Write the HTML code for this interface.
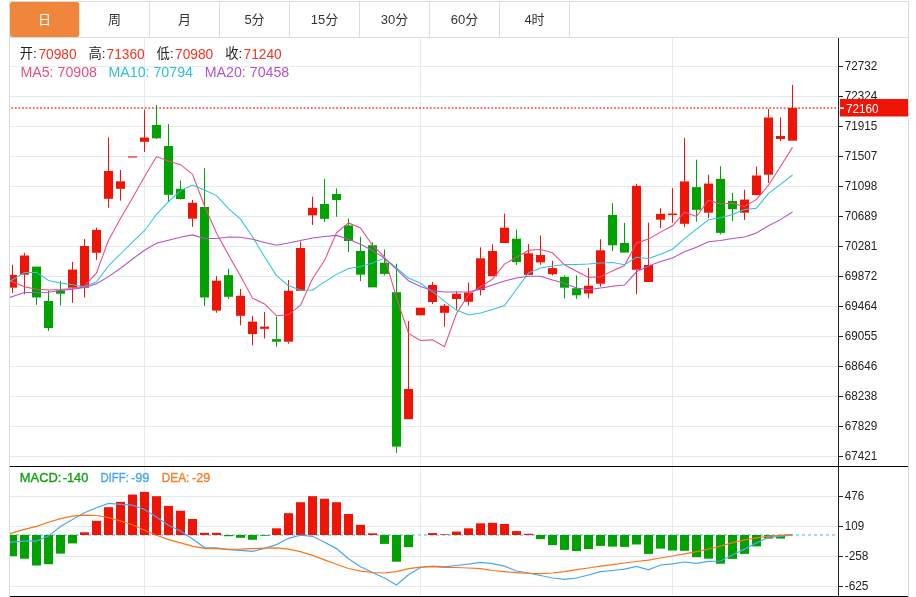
<!DOCTYPE html>
<html lang="zh-CN"><head><meta charset="utf-8"><title>K线图</title>
<style>html,body{margin:0;padding:0;background:#fff}svg{display:block;will-change:transform}text{font-family:"Liberation Sans","Noto Sans CJK SC",sans-serif}</style></head><body>
<svg width="916" height="597" viewBox="0 0 916 597">
<rect x="0" y="0" width="916" height="597" fill="#fff"/>
<g stroke="#e3ebf2" stroke-width="1" shape-rendering="crispEdges">
<line x1="10" x2="838" y1="66.5" y2="66.5"/>
<line x1="10" x2="838" y1="96.5" y2="96.5"/>
<line x1="10" x2="838" y1="126.5" y2="126.5"/>
<line x1="10" x2="838" y1="156.5" y2="156.5"/>
<line x1="10" x2="838" y1="186.5" y2="186.5"/>
<line x1="10" x2="838" y1="216.5" y2="216.5"/>
<line x1="10" x2="838" y1="246.5" y2="246.5"/>
<line x1="10" x2="838" y1="276.5" y2="276.5"/>
<line x1="10" x2="838" y1="306.5" y2="306.5"/>
<line x1="10" x2="838" y1="336.5" y2="336.5"/>
<line x1="10" x2="838" y1="366.5" y2="366.5"/>
<line x1="10" x2="838" y1="396.5" y2="396.5"/>
<line x1="10" x2="838" y1="426.5" y2="426.5"/>
<line x1="10" x2="838" y1="456.5" y2="456.5"/>
<line x1="10" x2="838" y1="496.5" y2="496.5"/>
<line x1="10" x2="838" y1="526.5" y2="526.5"/>
<line x1="10" x2="838" y1="556.5" y2="556.5"/>
<line x1="10" x2="838" y1="586.5" y2="586.5"/>
<line x1="144.5" x2="144.5" y1="38" y2="596"/>
<line x1="420.5" x2="420.5" y1="38" y2="596"/>
<line x1="672.5" x2="672.5" y1="38" y2="596"/>
</g>
<g stroke="#dcdcdc" stroke-width="1" fill="none" shape-rendering="crispEdges">
<rect x="9.5" y="1.5" width="899" height="597"/>
<line x1="10" x2="908" y1="37.5" y2="37.5"/>
<line x1="149.5" x2="149.5" y1="2" y2="37"/>
<line x1="219.5" x2="219.5" y1="2" y2="37"/>
<line x1="289.5" x2="289.5" y1="2" y2="37"/>
<line x1="359.5" x2="359.5" y1="2" y2="37"/>
<line x1="429.5" x2="429.5" y1="2" y2="37"/>
<line x1="499.5" x2="499.5" y1="2" y2="37"/>
<line x1="569.5" x2="569.5" y1="2" y2="37"/>
</g>
<rect x="10" y="2" width="69.2" height="35" rx="2.2" ry="2.2" fill="#f0863c"/>
<text x="44.5" y="24.2" font-size="13" fill="#fff" text-anchor="middle">日</text>
<text x="114.5" y="24.2" font-size="13" fill="#333" text-anchor="middle">周</text>
<text x="184.5" y="24.2" font-size="13" fill="#333" text-anchor="middle">月</text>
<text x="254.5" y="24.2" font-size="13" fill="#333" text-anchor="middle">5分</text>
<text x="324.5" y="24.2" font-size="13" fill="#333" text-anchor="middle">15分</text>
<text x="394.5" y="24.2" font-size="13" fill="#333" text-anchor="middle">30分</text>
<text x="464.5" y="24.2" font-size="13" fill="#333" text-anchor="middle">60分</text>
<text x="534.5" y="24.2" font-size="13" fill="#333" text-anchor="middle">4时</text>
<defs><clipPath id="c"><rect x="10" y="38" width="828" height="558"/></clipPath></defs>
<g clip-path="url(#c)">
<line x1="10" x2="836" y1="535" y2="535" stroke="#a6d9ef" stroke-width="2" stroke-dasharray="3 3"/>
<rect x="8.0" y="535.0" width="9" height="21.2" fill="#00a200"/>
<rect x="20.0" y="535.0" width="9" height="23.7" fill="#00a200"/>
<rect x="32.0" y="535.0" width="9" height="30.5" fill="#00a200"/>
<rect x="44.0" y="535.0" width="9" height="29.2" fill="#00a200"/>
<rect x="56.0" y="535.0" width="9" height="18.6" fill="#00a200"/>
<rect x="68.0" y="535.0" width="9" height="8.4" fill="#00a200"/>
<rect x="80.0" y="532.3" width="9" height="2.7" fill="#ee1506"/>
<rect x="92.0" y="520.8" width="9" height="14.2" fill="#ee1506"/>
<rect x="104.0" y="507.2" width="9" height="27.8" fill="#ee1506"/>
<rect x="116.0" y="501.9" width="9" height="33.1" fill="#ee1506"/>
<rect x="128.0" y="494.6" width="9" height="40.4" fill="#ee1506"/>
<rect x="140.0" y="491.9" width="9" height="43.1" fill="#ee1506"/>
<rect x="152.0" y="496.2" width="9" height="38.8" fill="#ee1506"/>
<rect x="164.0" y="505.9" width="9" height="29.1" fill="#ee1506"/>
<rect x="176.0" y="510.7" width="9" height="24.3" fill="#ee1506"/>
<rect x="188.0" y="519.0" width="9" height="16.0" fill="#ee1506"/>
<rect x="200.0" y="532.8" width="9" height="2.2" fill="#ee1506"/>
<rect x="212.0" y="532.8" width="9" height="2.2" fill="#ee1506"/>
<rect x="224.0" y="535.0" width="9" height="1.2" fill="#00a200"/>
<rect x="236.0" y="535.0" width="9" height="2.8" fill="#00a200"/>
<rect x="248.0" y="535.0" width="9" height="4.8" fill="#00a200"/>
<rect x="260.0" y="535.0" width="9" height="0.8" fill="#00a200"/>
<rect x="272.0" y="528.3" width="9" height="6.7" fill="#ee1506"/>
<rect x="284.0" y="513.2" width="9" height="21.8" fill="#ee1506"/>
<rect x="296.0" y="502.2" width="9" height="32.8" fill="#ee1506"/>
<rect x="308.0" y="496.2" width="9" height="38.8" fill="#ee1506"/>
<rect x="320.0" y="498.7" width="9" height="36.3" fill="#ee1506"/>
<rect x="332.0" y="502.2" width="9" height="32.8" fill="#ee1506"/>
<rect x="344.0" y="514.0" width="9" height="21.0" fill="#ee1506"/>
<rect x="356.0" y="524.8" width="9" height="10.2" fill="#ee1506"/>
<rect x="368.0" y="533.3" width="9" height="1.7" fill="#ee1506"/>
<rect x="380.0" y="535.0" width="9" height="8.9" fill="#00a200"/>
<rect x="392.0" y="535.0" width="9" height="26.7" fill="#00a200"/>
<rect x="404.0" y="535.0" width="9" height="12.1" fill="#00a200"/>
<rect x="428.0" y="533.1" width="9" height="1.9" fill="#ee1506"/>
<rect x="440.0" y="534.3" width="9" height="0.7" fill="#ee1506"/>
<rect x="452.0" y="531.6" width="9" height="3.4" fill="#ee1506"/>
<rect x="464.0" y="528.3" width="9" height="6.7" fill="#ee1506"/>
<rect x="476.0" y="523.3" width="9" height="11.7" fill="#ee1506"/>
<rect x="488.0" y="522.8" width="9" height="12.2" fill="#ee1506"/>
<rect x="500.0" y="524.0" width="9" height="11.0" fill="#ee1506"/>
<rect x="512.0" y="531.1" width="9" height="3.9" fill="#ee1506"/>
<rect x="524.0" y="533.8" width="9" height="1.2" fill="#ee1506"/>
<rect x="536.0" y="535.0" width="9" height="4.1" fill="#00a200"/>
<rect x="548.0" y="535.0" width="9" height="10.1" fill="#00a200"/>
<rect x="560.0" y="535.0" width="9" height="14.9" fill="#00a200"/>
<rect x="572.0" y="535.0" width="9" height="16.1" fill="#00a200"/>
<rect x="584.0" y="535.0" width="9" height="14.1" fill="#00a200"/>
<rect x="596.0" y="535.0" width="9" height="10.9" fill="#00a200"/>
<rect x="608.0" y="535.0" width="9" height="11.6" fill="#00a200"/>
<rect x="620.0" y="535.0" width="9" height="11.9" fill="#00a200"/>
<rect x="632.0" y="535.0" width="9" height="9.5" fill="#00a200"/>
<rect x="644.0" y="535.0" width="9" height="18.9" fill="#00a200"/>
<rect x="656.0" y="535.0" width="9" height="13.6" fill="#00a200"/>
<rect x="668.0" y="535.0" width="9" height="15.5" fill="#00a200"/>
<rect x="680.0" y="535.0" width="9" height="15.8" fill="#00a200"/>
<rect x="692.0" y="535.0" width="9" height="22.2" fill="#00a200"/>
<rect x="704.0" y="535.0" width="9" height="23.7" fill="#00a200"/>
<rect x="716.0" y="535.0" width="9" height="28.7" fill="#00a200"/>
<rect x="728.0" y="535.0" width="9" height="23.9" fill="#00a200"/>
<rect x="740.0" y="535.0" width="9" height="18.9" fill="#00a200"/>
<rect x="752.0" y="535.0" width="9" height="11.4" fill="#00a200"/>
<rect x="764.0" y="535.0" width="9" height="3.6" fill="#00a200"/>
<rect x="776.0" y="535.0" width="9" height="3.6" fill="#00a200"/>
<line x1="836.1" x2="10" y1="108" y2="108" stroke="#f4766c" stroke-width="1.8" stroke-dasharray="1.8 1.81"/>
<rect x="12.0" y="264.8" width="1" height="10.3" fill="#ee1506"/>
<rect x="12.0" y="287.5" width="1" height="5.5" fill="#ee1506"/>
<rect x="8.0" y="274.9" width="9" height="12.8" fill="#ee1506"/>
<rect x="24.0" y="252.8" width="1" height="2.9" fill="#ee1506"/>
<rect x="24.0" y="274.4" width="1" height="19.8" fill="#ee1506"/>
<rect x="20.0" y="255.5" width="9" height="19.1" fill="#ee1506"/>
<rect x="36.0" y="297.3" width="1" height="7.5" fill="#00a200"/>
<rect x="32.0" y="266.6" width="9" height="30.9" fill="#00a200"/>
<rect x="48.0" y="290.5" width="1" height="10.7" fill="#00a200"/>
<rect x="48.0" y="327.9" width="1" height="3.0" fill="#00a200"/>
<rect x="44.0" y="301.0" width="9" height="27.1" fill="#00a200"/>
<rect x="60.0" y="280.9" width="1" height="9.8" fill="#00a200"/>
<rect x="60.0" y="293.5" width="1" height="12.0" fill="#00a200"/>
<rect x="56.0" y="290.5" width="9" height="3.2" fill="#00a200"/>
<rect x="72.0" y="262.0" width="1" height="7.8" fill="#ee1506"/>
<rect x="72.0" y="287.5" width="1" height="15.3" fill="#ee1506"/>
<rect x="68.0" y="269.6" width="9" height="18.1" fill="#ee1506"/>
<rect x="84.0" y="238.9" width="1" height="7.3" fill="#ee1506"/>
<rect x="84.0" y="287.5" width="1" height="10.0" fill="#ee1506"/>
<rect x="80.0" y="246.0" width="9" height="41.7" fill="#ee1506"/>
<rect x="96.0" y="227.6" width="1" height="2.5" fill="#ee1506"/>
<rect x="96.0" y="252.6" width="1" height="7.2" fill="#ee1506"/>
<rect x="92.0" y="229.9" width="9" height="22.9" fill="#ee1506"/>
<rect x="108.0" y="137.3" width="1" height="33.9" fill="#ee1506"/>
<rect x="108.0" y="198.6" width="1" height="9.0" fill="#ee1506"/>
<rect x="104.0" y="171.0" width="9" height="27.8" fill="#ee1506"/>
<rect x="120.0" y="170.0" width="1" height="11.5" fill="#ee1506"/>
<rect x="120.0" y="188.6" width="1" height="12.0" fill="#ee1506"/>
<rect x="116.0" y="181.3" width="9" height="7.5" fill="#ee1506"/>
<rect x="128.0" y="156.2" width="9" height="1.4" fill="#ee1506" opacity="0.8"/>
<rect x="144.0" y="109.6" width="1" height="28.1" fill="#ee1506"/>
<rect x="144.0" y="141.6" width="1" height="10.3" fill="#ee1506"/>
<rect x="140.0" y="137.5" width="9" height="4.3" fill="#ee1506"/>
<rect x="156.0" y="105.0" width="1" height="20.2" fill="#00a200"/>
<rect x="156.0" y="138.1" width="1" height="0.9" fill="#00a200"/>
<rect x="152.0" y="125.0" width="9" height="13.3" fill="#00a200"/>
<rect x="168.0" y="124.0" width="1" height="22.2" fill="#00a200"/>
<rect x="168.0" y="194.6" width="1" height="7.8" fill="#00a200"/>
<rect x="164.0" y="146.0" width="9" height="48.8" fill="#00a200"/>
<rect x="180.0" y="180.5" width="1" height="8.5" fill="#00a200"/>
<rect x="180.0" y="198.8" width="1" height="0.8" fill="#00a200"/>
<rect x="176.0" y="188.8" width="9" height="10.2" fill="#00a200"/>
<rect x="192.0" y="200.0" width="1" height="3.0" fill="#ee1506"/>
<rect x="192.0" y="218.5" width="1" height="8.3" fill="#ee1506"/>
<rect x="188.0" y="202.8" width="9" height="15.9" fill="#ee1506"/>
<rect x="204.0" y="168.0" width="1" height="39.2" fill="#00a200"/>
<rect x="204.0" y="297.3" width="1" height="8.7" fill="#00a200"/>
<rect x="200.0" y="207.0" width="9" height="90.5" fill="#00a200"/>
<rect x="216.0" y="276.1" width="1" height="4.8" fill="#ee1506"/>
<rect x="216.0" y="310.4" width="1" height="2.4" fill="#ee1506"/>
<rect x="212.0" y="280.7" width="9" height="29.9" fill="#ee1506"/>
<rect x="228.0" y="268.7" width="1" height="6.6" fill="#00a200"/>
<rect x="228.0" y="296.6" width="1" height="2.2" fill="#00a200"/>
<rect x="224.0" y="275.1" width="9" height="21.7" fill="#00a200"/>
<rect x="240.0" y="289.0" width="1" height="7.0" fill="#ee1506"/>
<rect x="240.0" y="315.6" width="1" height="9.7" fill="#ee1506"/>
<rect x="236.0" y="295.8" width="9" height="20.0" fill="#ee1506"/>
<rect x="252.0" y="315.8" width="1" height="6.0" fill="#ee1506"/>
<rect x="252.0" y="333.9" width="1" height="11.5" fill="#ee1506"/>
<rect x="248.0" y="321.6" width="9" height="12.5" fill="#ee1506"/>
<rect x="264.0" y="312.0" width="1" height="14.8" fill="#ee1506"/>
<rect x="264.0" y="328.6" width="1" height="9.8" fill="#ee1506"/>
<rect x="260.0" y="326.6" width="9" height="2.2" fill="#ee1506"/>
<rect x="276.0" y="316.5" width="1" height="22.8" fill="#00a200"/>
<rect x="276.0" y="341.5" width="1" height="5.2" fill="#00a200"/>
<rect x="272.0" y="339.1" width="9" height="2.6" fill="#00a200"/>
<rect x="288.0" y="280.0" width="1" height="11.0" fill="#ee1506"/>
<rect x="288.0" y="341.5" width="1" height="2.2" fill="#ee1506"/>
<rect x="284.0" y="290.8" width="9" height="50.9" fill="#ee1506"/>
<rect x="300.0" y="241.7" width="1" height="6.5" fill="#ee1506"/>
<rect x="296.0" y="248.0" width="9" height="42.8" fill="#ee1506"/>
<rect x="312.0" y="196.7" width="1" height="11.3" fill="#ee1506"/>
<rect x="312.0" y="215.1" width="1" height="9.8" fill="#ee1506"/>
<rect x="308.0" y="207.8" width="9" height="7.5" fill="#ee1506"/>
<rect x="324.0" y="178.9" width="1" height="25.3" fill="#00a200"/>
<rect x="324.0" y="218.6" width="1" height="3.3" fill="#00a200"/>
<rect x="320.0" y="204.0" width="9" height="14.8" fill="#00a200"/>
<rect x="336.0" y="188.4" width="1" height="5.8" fill="#00a200"/>
<rect x="336.0" y="199.8" width="1" height="17.0" fill="#00a200"/>
<rect x="332.0" y="194.0" width="9" height="6.0" fill="#00a200"/>
<rect x="348.0" y="218.6" width="1" height="7.0" fill="#00a200"/>
<rect x="348.0" y="240.8" width="1" height="11.2" fill="#00a200"/>
<rect x="344.0" y="225.4" width="9" height="15.6" fill="#00a200"/>
<rect x="360.0" y="236.9" width="1" height="14.3" fill="#00a200"/>
<rect x="360.0" y="274.4" width="1" height="6.8" fill="#00a200"/>
<rect x="356.0" y="251.0" width="9" height="23.6" fill="#00a200"/>
<rect x="372.0" y="242.2" width="1" height="3.2" fill="#00a200"/>
<rect x="368.0" y="245.2" width="9" height="42.2" fill="#00a200"/>
<rect x="384.0" y="249.5" width="1" height="13.5" fill="#00a200"/>
<rect x="384.0" y="273.7" width="1" height="1.7" fill="#00a200"/>
<rect x="380.0" y="262.8" width="9" height="11.1" fill="#00a200"/>
<rect x="396.0" y="263.7" width="1" height="28.7" fill="#00a200"/>
<rect x="396.0" y="446.4" width="1" height="6.7" fill="#00a200"/>
<rect x="392.0" y="292.2" width="9" height="154.4" fill="#00a200"/>
<rect x="408.0" y="321.0" width="1" height="68.2" fill="#ee1506"/>
<rect x="404.0" y="389.0" width="9" height="30.2" fill="#ee1506"/>
<rect x="416.0" y="307.7" width="9" height="7.6" fill="#ee1506"/>
<rect x="432.0" y="282.0" width="1" height="3.2" fill="#ee1506"/>
<rect x="432.0" y="301.8" width="1" height="2.2" fill="#ee1506"/>
<rect x="428.0" y="285.0" width="9" height="17.0" fill="#ee1506"/>
<rect x="444.0" y="304.0" width="1" height="1.9" fill="#ee1506"/>
<rect x="444.0" y="312.6" width="1" height="14.2" fill="#ee1506"/>
<rect x="440.0" y="305.7" width="9" height="7.1" fill="#ee1506"/>
<rect x="456.0" y="291.3" width="1" height="2.7" fill="#ee1506"/>
<rect x="456.0" y="298.8" width="1" height="11.3" fill="#ee1506"/>
<rect x="452.0" y="293.8" width="9" height="5.2" fill="#ee1506"/>
<rect x="468.0" y="282.5" width="1" height="10.2" fill="#ee1506"/>
<rect x="468.0" y="301.6" width="1" height="4.0" fill="#ee1506"/>
<rect x="464.0" y="292.5" width="9" height="9.3" fill="#ee1506"/>
<rect x="480.0" y="247.3" width="1" height="11.2" fill="#ee1506"/>
<rect x="480.0" y="289.8" width="1" height="5.7" fill="#ee1506"/>
<rect x="476.0" y="258.3" width="9" height="31.7" fill="#ee1506"/>
<rect x="492.0" y="244.3" width="1" height="6.9" fill="#ee1506"/>
<rect x="488.0" y="251.0" width="9" height="25.2" fill="#ee1506"/>
<rect x="504.0" y="213.6" width="1" height="14.3" fill="#ee1506"/>
<rect x="500.0" y="227.7" width="9" height="15.3" fill="#ee1506"/>
<rect x="516.0" y="229.7" width="1" height="9.2" fill="#00a200"/>
<rect x="516.0" y="261.9" width="1" height="3.0" fill="#00a200"/>
<rect x="512.0" y="238.7" width="9" height="23.4" fill="#00a200"/>
<rect x="528.0" y="244.0" width="1" height="9.5" fill="#ee1506"/>
<rect x="524.0" y="253.3" width="9" height="21.6" fill="#ee1506"/>
<rect x="540.0" y="235.5" width="1" height="19.7" fill="#ee1506"/>
<rect x="540.0" y="262.2" width="1" height="2.7" fill="#ee1506"/>
<rect x="536.0" y="255.0" width="9" height="7.4" fill="#ee1506"/>
<rect x="552.0" y="260.9" width="1" height="7.4" fill="#ee1506"/>
<rect x="552.0" y="274.0" width="1" height="1.4" fill="#ee1506"/>
<rect x="548.0" y="268.1" width="9" height="6.1" fill="#ee1506"/>
<rect x="564.0" y="275.4" width="1" height="1.7" fill="#00a200"/>
<rect x="564.0" y="287.5" width="1" height="10.8" fill="#00a200"/>
<rect x="560.0" y="276.9" width="9" height="10.8" fill="#00a200"/>
<rect x="576.0" y="275.4" width="1" height="13.0" fill="#00a200"/>
<rect x="576.0" y="295.1" width="1" height="3.7" fill="#00a200"/>
<rect x="572.0" y="288.2" width="9" height="7.1" fill="#00a200"/>
<rect x="588.0" y="267.9" width="1" height="18.0" fill="#ee1506"/>
<rect x="588.0" y="293.3" width="1" height="5.0" fill="#ee1506"/>
<rect x="584.0" y="285.7" width="9" height="7.8" fill="#ee1506"/>
<rect x="600.0" y="239.2" width="1" height="11.3" fill="#ee1506"/>
<rect x="600.0" y="283.5" width="1" height="3.2" fill="#ee1506"/>
<rect x="596.0" y="250.3" width="9" height="33.4" fill="#ee1506"/>
<rect x="612.0" y="203.1" width="1" height="12.1" fill="#00a200"/>
<rect x="612.0" y="245.1" width="1" height="5.9" fill="#00a200"/>
<rect x="608.0" y="215.0" width="9" height="30.3" fill="#00a200"/>
<rect x="624.0" y="222.9" width="1" height="20.3" fill="#00a200"/>
<rect x="620.0" y="243.0" width="9" height="9.6" fill="#00a200"/>
<rect x="636.0" y="183.8" width="1" height="2.2" fill="#ee1506"/>
<rect x="636.0" y="269.5" width="1" height="24.8" fill="#ee1506"/>
<rect x="632.0" y="185.8" width="9" height="83.9" fill="#ee1506"/>
<rect x="648.0" y="222.7" width="1" height="42.5" fill="#ee1506"/>
<rect x="644.0" y="265.0" width="9" height="17.0" fill="#ee1506"/>
<rect x="660.0" y="208.2" width="1" height="5.9" fill="#ee1506"/>
<rect x="660.0" y="219.5" width="1" height="8.7" fill="#ee1506"/>
<rect x="656.0" y="213.9" width="9" height="5.8" fill="#ee1506"/>
<rect x="672.0" y="188.2" width="1" height="25.5" fill="#ee1506"/>
<rect x="672.0" y="214.9" width="1" height="7.9" fill="#ee1506"/>
<rect x="668.0" y="213.5" width="9" height="1.6" fill="#ee1506"/>
<rect x="684.0" y="137.8" width="1" height="43.8" fill="#ee1506"/>
<rect x="684.0" y="223.6" width="1" height="3.7" fill="#ee1506"/>
<rect x="680.0" y="181.4" width="9" height="42.4" fill="#ee1506"/>
<rect x="696.0" y="159.7" width="1" height="27.6" fill="#00a200"/>
<rect x="696.0" y="209.6" width="1" height="12.0" fill="#00a200"/>
<rect x="692.0" y="187.1" width="9" height="22.7" fill="#00a200"/>
<rect x="708.0" y="174.7" width="1" height="9.1" fill="#ee1506"/>
<rect x="708.0" y="212.5" width="1" height="5.5" fill="#ee1506"/>
<rect x="704.0" y="183.6" width="9" height="29.1" fill="#ee1506"/>
<rect x="720.0" y="166.3" width="1" height="12.7" fill="#00a200"/>
<rect x="720.0" y="232.7" width="1" height="1.7" fill="#00a200"/>
<rect x="716.0" y="178.8" width="9" height="54.1" fill="#00a200"/>
<rect x="732.0" y="192.9" width="1" height="8.3" fill="#00a200"/>
<rect x="732.0" y="209.0" width="1" height="12.0" fill="#00a200"/>
<rect x="728.0" y="201.0" width="9" height="8.2" fill="#00a200"/>
<rect x="744.0" y="189.7" width="1" height="10.1" fill="#ee1506"/>
<rect x="744.0" y="212.5" width="1" height="7.4" fill="#ee1506"/>
<rect x="740.0" y="199.6" width="9" height="13.1" fill="#ee1506"/>
<rect x="756.0" y="166.5" width="1" height="9.2" fill="#ee1506"/>
<rect x="752.0" y="175.5" width="9" height="19.6" fill="#ee1506"/>
<rect x="768.0" y="108.9" width="1" height="8.8" fill="#ee1506"/>
<rect x="768.0" y="174.5" width="1" height="8.5" fill="#ee1506"/>
<rect x="764.0" y="117.5" width="9" height="57.2" fill="#ee1506"/>
<rect x="780.0" y="117.4" width="1" height="18.8" fill="#ee1506"/>
<rect x="780.0" y="138.8" width="1" height="2.3" fill="#ee1506"/>
<rect x="776.0" y="136.0" width="9" height="3.0" fill="#ee1506"/>
<rect x="792.0" y="85.0" width="1" height="23.2" fill="#ee1506"/>
<rect x="788.0" y="108.0" width="9" height="32.7" fill="#ee1506"/>
<polyline points="0.5,276.2 12.5,281.8 24.5,286.7 36.5,289.2 48.5,290.0 60.5,289.4 72.5,288.4 84.5,285.9 96.5,272.9 108.5,240.2 120.5,218.5 132.5,198.0 144.5,176.7 156.5,156.6 168.5,160.9 180.5,164.7 192.5,174.2 204.5,206.0 216.5,233.0 228.5,255.0 240.5,275.9 252.5,298.2 264.5,304.0 276.5,315.8 288.5,314.8 300.5,305.2 312.5,278.8 324.5,260.6 336.5,232.9 348.5,222.9 360.5,227.9 372.5,245.5 384.5,256.8 396.5,297.7 408.5,333.4 420.5,340.4 432.5,339.9 444.5,346.7 456.5,313.5 468.5,294.8 480.5,286.7 492.5,279.2 504.5,264.1 516.5,257.3 528.5,250.3 540.5,249.5 552.5,252.8 564.5,264.8 576.5,271.3 588.5,277.4 600.5,276.7 612.5,270.9 624.5,265.5 636.5,242.9 648.5,239.1 660.5,232.1 672.5,225.8 684.5,212.2 696.5,216.4 708.5,200.2 720.5,204.0 732.5,203.2 744.5,206.5 756.5,199.4 768.5,185.3 780.5,166.5 792.5,147.4" fill="none" stroke="#ea4a80" stroke-width="1.05" stroke-linejoin="miter"/>
<polyline points="0.5,287.3 12.5,279.8 24.5,272.4 36.5,272.4 48.5,280.4 60.5,282.9 72.5,284.7 84.5,286.7 96.5,281.7 108.5,265.8 120.5,254.0 132.5,242.2 144.5,230.7 156.5,214.3 168.5,201.6 180.5,190.6 192.5,185.0 204.5,190.0 216.5,195.6 228.5,208.6 240.5,219.1 252.5,236.7 264.5,256.8 276.5,275.6 288.5,285.7 300.5,290.0 312.5,290.2 324.5,281.9 336.5,274.4 348.5,268.6 360.5,266.8 372.5,263.0 384.5,258.0 396.5,268.0 408.5,278.1 420.5,283.2 432.5,291.7 444.5,301.4 456.5,310.1 468.5,314.9 480.5,313.1 492.5,309.6 504.5,305.6 516.5,289.2 528.5,272.9 540.5,267.9 552.5,266.1 564.5,264.6 576.5,264.4 588.5,263.9 600.5,263.1 612.5,262.6 624.5,264.8 636.5,257.2 648.5,258.4 660.5,254.2 672.5,249.2 684.5,238.6 696.5,229.1 708.5,219.8 720.5,217.8 732.5,214.5 744.5,209.5 756.5,208.2 768.5,193.3 780.5,184.4 792.5,175.0" fill="none" stroke="#30c4dc" stroke-width="1.05" stroke-linejoin="miter"/>
<polyline points="0.5,300.5 12.5,296.5 24.5,292.5 36.5,292.5 48.5,292.2 60.5,290.5 72.5,289.2 84.5,287.4 96.5,283.7 108.5,276.6 120.5,268.3 132.5,259.0 144.5,250.3 156.5,243.2 168.5,240.2 180.5,237.2 192.5,234.9 204.5,238.4 216.5,238.4 228.5,237.0 240.5,237.2 252.5,239.2 264.5,242.5 276.5,245.2 288.5,243.0 300.5,240.5 312.5,237.9 324.5,236.4 336.5,235.4 348.5,239.2 360.5,244.2 372.5,250.5 384.5,258.0 396.5,269.3 408.5,280.7 420.5,286.4 432.5,290.8 444.5,291.9 456.5,292.0 468.5,291.8 480.5,289.2 492.5,285.0 504.5,281.0 516.5,277.9 528.5,276.2 540.5,276.2 552.5,279.9 564.5,283.3 576.5,288.0 588.5,289.7 600.5,288.0 612.5,286.2 624.5,285.0 636.5,271.8 648.5,266.0 660.5,261.4 672.5,258.0 684.5,251.7 696.5,247.2 708.5,241.7 720.5,240.4 732.5,238.4 744.5,237.1 756.5,232.9 768.5,225.8 780.5,219.6 792.5,212.0" fill="none" stroke="#b252c8" stroke-width="1.05" stroke-linejoin="miter"/>
<polyline points="0.5,543.1 12.5,542.2 24.5,541.1 36.5,541.1 48.5,536.1 60.5,526.5 72.5,519.5 84.5,512.7 96.5,507.7 108.5,503.4 120.5,504.4 132.5,505.2 144.5,509.5 156.5,517.0 168.5,525.3 180.5,531.0 192.5,539.1 204.5,547.6 216.5,547.9 228.5,549.6 240.5,550.4 252.5,551.4 264.5,548.4 276.5,544.6 288.5,538.3 300.5,535.1 312.5,536.3 324.5,542.3 336.5,548.6 348.5,558.7 360.5,566.7 372.5,572.5 384.5,578.0 396.5,585.0 408.5,574.7 420.5,567.5 432.5,566.0 444.5,566.9 456.5,565.5 468.5,564.2 480.5,562.4 492.5,563.7 504.5,566.2 516.5,571.0 528.5,573.0 540.5,575.5 552.5,578.0 564.5,579.3 576.5,578.0 588.5,575.0 600.5,571.7 612.5,570.5 624.5,569.1 636.5,566.4 648.5,569.9 660.5,565.0 672.5,563.8 684.5,562.0 696.5,563.3 708.5,561.3 720.5,561.0 732.5,555.0 744.5,549.1 756.5,542.9 768.5,537.3 780.5,536.3 792.5,534.8" fill="none" stroke="#4aa6f0" stroke-width="1.2" stroke-linejoin="miter"/>
<polyline points="0.5,535.5 12.5,532.8 24.5,529.4 36.5,526.4 48.5,522.2 60.5,518.6 72.5,516.2 84.5,515.2 96.5,515.5 108.5,517.7 120.5,521.0 132.5,524.8 144.5,530.3 156.5,535.3 168.5,539.6 180.5,542.8 192.5,546.1 204.5,548.4 216.5,548.6 228.5,549.3 240.5,549.1 252.5,548.6 264.5,548.1 276.5,547.9 288.5,549.1 300.5,551.6 312.5,555.4 324.5,559.9 336.5,564.2 348.5,568.5 360.5,571.2 372.5,572.5 384.5,573.0 396.5,571.7 408.5,568.7 420.5,567.2 432.5,566.7 444.5,567.3 456.5,567.5 468.5,568.0 480.5,568.7 492.5,570.5 504.5,571.7 516.5,572.7 528.5,573.5 540.5,573.7 552.5,573.0 564.5,571.7 576.5,569.7 588.5,568.0 600.5,566.2 612.5,564.7 624.5,563.0 636.5,561.5 648.5,560.1 660.5,558.0 672.5,556.0 684.5,553.9 696.5,551.6 708.5,549.2 720.5,546.2 732.5,542.7 744.5,539.8 756.5,537.8 768.5,536.1 780.5,535.3 792.5,534.6" fill="none" stroke="#fa7518" stroke-width="1.2" stroke-linejoin="miter"/>
</g>
<g stroke="#222" stroke-width="1" shape-rendering="crispEdges">
<line x1="838.5" x2="838.5" y1="38" y2="597"/>
<line x1="839" x2="843" y1="66.5" y2="66.5"/>
<line x1="839" x2="843" y1="96.5" y2="96.5"/>
<line x1="839" x2="843" y1="126.5" y2="126.5"/>
<line x1="839" x2="843" y1="156.5" y2="156.5"/>
<line x1="839" x2="843" y1="186.5" y2="186.5"/>
<line x1="839" x2="843" y1="216.5" y2="216.5"/>
<line x1="839" x2="843" y1="246.5" y2="246.5"/>
<line x1="839" x2="843" y1="276.5" y2="276.5"/>
<line x1="839" x2="843" y1="306.5" y2="306.5"/>
<line x1="839" x2="843" y1="336.5" y2="336.5"/>
<line x1="839" x2="843" y1="366.5" y2="366.5"/>
<line x1="839" x2="843" y1="396.5" y2="396.5"/>
<line x1="839" x2="843" y1="426.5" y2="426.5"/>
<line x1="839" x2="843" y1="456.5" y2="456.5"/>
<line x1="839" x2="843" y1="496.5" y2="496.5"/>
<line x1="839" x2="843" y1="526.5" y2="526.5"/>
<line x1="839" x2="843" y1="556.5" y2="556.5"/>
<line x1="839" x2="843" y1="586.5" y2="586.5"/>
</g>
<g stroke="#000" stroke-width="1" shape-rendering="crispEdges"><line x1="10" x2="908" y1="466.5" y2="466.5"/><line x1="10" x2="908" y1="596.5" y2="596.5"/></g>
<text x="844.7" y="70.1" font-size="12.1" fill="#222" textLength="32.5" lengthAdjust="spacingAndGlyphs">72732</text>
<text x="844.7" y="100.1" font-size="12.1" fill="#222" textLength="32.5" lengthAdjust="spacingAndGlyphs">72324</text>
<text x="844.7" y="130.1" font-size="12.1" fill="#222" textLength="32.5" lengthAdjust="spacingAndGlyphs">71915</text>
<text x="844.7" y="160.1" font-size="12.1" fill="#222" textLength="32.5" lengthAdjust="spacingAndGlyphs">71507</text>
<text x="844.7" y="190.1" font-size="12.1" fill="#222" textLength="32.5" lengthAdjust="spacingAndGlyphs">71098</text>
<text x="844.7" y="220.1" font-size="12.1" fill="#222" textLength="32.5" lengthAdjust="spacingAndGlyphs">70689</text>
<text x="844.7" y="250.1" font-size="12.1" fill="#222" textLength="32.5" lengthAdjust="spacingAndGlyphs">70281</text>
<text x="844.7" y="280.1" font-size="12.1" fill="#222" textLength="32.5" lengthAdjust="spacingAndGlyphs">69872</text>
<text x="844.7" y="310.1" font-size="12.1" fill="#222" textLength="32.5" lengthAdjust="spacingAndGlyphs">69464</text>
<text x="844.7" y="340.1" font-size="12.1" fill="#222" textLength="32.5" lengthAdjust="spacingAndGlyphs">69055</text>
<text x="844.7" y="370.1" font-size="12.1" fill="#222" textLength="32.5" lengthAdjust="spacingAndGlyphs">68646</text>
<text x="844.7" y="400.1" font-size="12.1" fill="#222" textLength="32.5" lengthAdjust="spacingAndGlyphs">68238</text>
<text x="844.7" y="430.1" font-size="12.1" fill="#222" textLength="32.5" lengthAdjust="spacingAndGlyphs">67829</text>
<text x="844.7" y="460.1" font-size="12.1" fill="#222" textLength="32.5" lengthAdjust="spacingAndGlyphs">67421</text>
<text x="844.7" y="500.1" font-size="12.1" fill="#222" textLength="19.5" lengthAdjust="spacingAndGlyphs">476</text>
<text x="844.7" y="530.1" font-size="12.1" fill="#222" textLength="19.5" lengthAdjust="spacingAndGlyphs">109</text>
<text x="844.7" y="560.1" font-size="12.1" fill="#222" textLength="23.8" lengthAdjust="spacingAndGlyphs">-258</text>
<text x="844.7" y="590.1" font-size="12.1" fill="#222" textLength="23.8" lengthAdjust="spacingAndGlyphs">-625</text>
<rect x="840" y="99" width="68" height="17.5" fill="#ee1506"/>
<rect x="840" y="107.4" width="4" height="1.5" fill="#fff"/>
<text x="846.1" y="112.7" font-size="12.1" fill="#fff" textLength="32.5" lengthAdjust="spacingAndGlyphs">72160</text>
<text x="19.8" y="58.3" font-size="13.3" fill="#222">开:</text>
<text x="38.4" y="58.8" font-size="14" fill="#f03422" textLength="38.2" lengthAdjust="spacingAndGlyphs">70980</text>
<text x="88.4" y="58.3" font-size="13.3" fill="#222">高:</text>
<text x="106.5" y="58.8" font-size="14" fill="#f03422" textLength="38.2" lengthAdjust="spacingAndGlyphs">71360</text>
<text x="156.6" y="58.3" font-size="13.3" fill="#222">低:</text>
<text x="175.0" y="58.8" font-size="14" fill="#f03422" textLength="38.2" lengthAdjust="spacingAndGlyphs">70980</text>
<text x="225.3" y="58.3" font-size="13.3" fill="#222">收:</text>
<text x="243.5" y="58.8" font-size="14" fill="#f03422" textLength="38.2" lengthAdjust="spacingAndGlyphs">71240</text>
<text x="20.4" y="76.7" font-size="14" fill="#e94e80" textLength="76.6" lengthAdjust="spacingAndGlyphs">MA5: 70908</text>
<text x="108.4" y="76.7" font-size="14" fill="#2fc0d8" textLength="84.6" lengthAdjust="spacingAndGlyphs">MA10: 70794</text>
<text x="204.7" y="76.7" font-size="14" fill="#b454c8" textLength="84.6" lengthAdjust="spacingAndGlyphs">MA20: 70458</text>
<text x="19.8" y="482.0" font-size="13" fill="#12a312" stroke="#12a312" stroke-width="0.35" textLength="41.6" lengthAdjust="spacingAndGlyphs">MACD:</text>
<text x="62.7" y="482.0" font-size="13" fill="#12a312" stroke="#12a312" stroke-width="0.35" textLength="25.6" lengthAdjust="spacingAndGlyphs">-140</text>
<text x="100.4" y="482.0" font-size="13" fill="#4aa6ee" stroke="#4aa6ee" stroke-width="0.35" textLength="28.4" lengthAdjust="spacingAndGlyphs">DIFF:</text>
<text x="130.9" y="482.0" font-size="13" fill="#4aa6ee" stroke="#4aa6ee" stroke-width="0.35" textLength="18.6" lengthAdjust="spacingAndGlyphs">-99</text>
<text x="161.8" y="482.0" font-size="13" fill="#f47d2a" stroke="#f47d2a" stroke-width="0.35" textLength="27.6" lengthAdjust="spacingAndGlyphs">DEA:</text>
<text x="192.1" y="482.0" font-size="13" fill="#f47d2a" stroke="#f47d2a" stroke-width="0.35" textLength="18.2" lengthAdjust="spacingAndGlyphs">-29</text>
</svg></body></html>
